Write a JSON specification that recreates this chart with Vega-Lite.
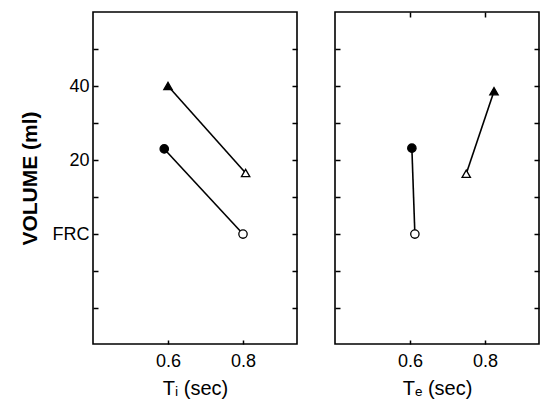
{
  "$schema": "https://vega.github.io/schema/vega-lite/v6.json",
  "padding": {"left": 18, "top": 10, "right": 2, "bottom": 0},
  "background": "white",
  "config": {
    "view": {"stroke": "black", "strokeWidth": 1.6},
    "font": "Liberation Sans",
    "axis": {
      "domain": false, "grid": false, "tickColor": "black", "tickWidth": 1.5,
      "labelColor": "black", "titleColor": "black", "labelFont": "Liberation Sans",
      "titleFont": "Liberation Sans", "labelFontSize": 18, "titleFontSize": 20, "titleFontWeight": "normal"
    }
  },
  "datasets": {
    "ti": [
      {"t": 0.6, "volume": 40, "breath": "A", "condition": "baseline"},
      {"t": 0.807, "volume": 16.5, "breath": "A", "condition": "altered"},
      {"t": 0.59, "volume": 23, "breath": "B", "condition": "baseline"},
      {"t": 0.8, "volume": 0, "breath": "B", "condition": "altered"}
    ],
    "te": [
      {"t": 0.824, "volume": 38.6, "breath": "A", "condition": "baseline"},
      {"t": 0.75, "volume": 16.3, "breath": "A", "condition": "altered"},
      {"t": 0.605, "volume": 23.2, "breath": "B", "condition": "baseline"},
      {"t": 0.613, "volume": 0, "breath": "B", "condition": "altered"}
    ]
  },
  "spacing": 34,
  "hconcat": [
    {
      "width": 204, "height": 332,
      "data": {"name": "ti"},
      "layer": [
        {
          "mark": {"type": "line", "color": "black", "strokeWidth": 1.6},
          "encoding": {
            "x": {"field": "t", "type": "quantitative", "scale": {"domain": [0.4, 0.944], "nice": false, "zero": false},
                  "axis": {"values": [0.6, 0.8], "format": ".1f", "tickSize": -4, "labelPadding": 12, "title": "Tᵢ (sec)", "titlePadding": 8}},
            "y": {"field": "volume", "type": "quantitative", "scale": {"domain": [-29.7, 60], "nice": false, "zero": false},
                  "axis": {"values": [-20, -10, 0, 10, 20, 30, 40, 50], "tickSize": -5, "labelPadding": 9,
                           "labelExpr": "datum.value == 0 ? 'FRC' : (datum.value == 20 || datum.value == 40 ? datum.label : '')",
                           "title": "VOLUME (ml)", "titleFontSize": 21, "titleFontWeight": "bold", "titlePadding": 12}},
            "detail": {"field": "breath"}
          }
        },
        {
          "mark": {"type": "point", "filled": true, "stroke": "black", "strokeWidth": 1.3, "size": 70, "opacity": 1},
          "encoding": {
            "x": {"field": "t", "type": "quantitative", "scale": {"domain": [0.4, 0.944], "nice": false, "zero": false}, "axis": null},
            "y": {"field": "volume", "type": "quantitative", "scale": {"domain": [-29.7, 60], "nice": false, "zero": false}, "axis": null},
            "shape": {"field": "breath", "type": "nominal", "scale": {"domain": ["A", "B"], "range": ["triangle-up", "circle"]}, "legend": null},
            "fill": {"field": "condition", "type": "nominal", "scale": {"domain": ["baseline", "altered"], "range": ["black", "white"]}, "legend": null}
          }
        },
        {
          "mark": {"type": "point", "opacity": 0},
          "encoding": {
            "y": {"field": "volume", "type": "quantitative", "scale": {"domain": [-29.7, 60], "nice": false, "zero": false},
                  "axis": {"orient": "right", "values": [-20, -10, 0, 10, 20, 30, 40, 50], "tickSize": -5, "labels": false, "title": null}}
          }
        }
      ],
      "resolve": {"axis": {"y": "independent", "x": "independent"}}
    },
    {
      "width": 204, "height": 332,
      "data": {"name": "te"},
      "layer": [
        {
          "mark": {"type": "line", "color": "black", "strokeWidth": 1.6},
          "encoding": {
            "x": {"field": "t", "type": "quantitative", "scale": {"domain": [0.4, 0.944], "nice": false, "zero": false},
                  "axis": {"values": [0.6, 0.8], "format": ".1f", "tickSize": -4, "labelPadding": 12, "title": "Tₑ (sec)", "titlePadding": 8}},
            "y": {"field": "volume", "type": "quantitative", "scale": {"domain": [-29.7, 60], "nice": false, "zero": false},
                  "axis": {"values": [-20, -10, 0, 10, 20, 30, 40, 50], "tickSize": -5, "labels": false, "title": null}},
            "detail": {"field": "breath"}
          }
        },
        {
          "mark": {"type": "point", "filled": true, "stroke": "black", "strokeWidth": 1.3, "size": 70, "opacity": 1},
          "encoding": {
            "x": {"field": "t", "type": "quantitative", "scale": {"domain": [0.4, 0.944], "nice": false, "zero": false}, "axis": null},
            "y": {"field": "volume", "type": "quantitative", "scale": {"domain": [-29.7, 60], "nice": false, "zero": false}, "axis": null},
            "shape": {"field": "breath", "type": "nominal", "scale": {"domain": ["A", "B"], "range": ["triangle-up", "circle"]}, "legend": null},
            "fill": {"field": "condition", "type": "nominal", "scale": {"domain": ["baseline", "altered"], "range": ["black", "white"]}, "legend": null}
          }
        },
        {
          "mark": {"type": "point", "opacity": 0},
          "encoding": {
            "x": {"field": "t", "type": "quantitative", "scale": {"domain": [0.4, 0.944], "nice": false, "zero": false},
                  "axis": {"orient": "top", "values": [0.6, 0.8], "tickSize": -5, "labels": false, "title": null}},
            "y": {"field": "volume", "type": "quantitative", "scale": {"domain": [-29.7, 60], "nice": false, "zero": false},
                  "axis": {"orient": "right", "values": [-20, -10, 0, 10, 20, 30, 40, 50], "tickSize": -5, "labels": false, "title": null}}
          }
        }
      ],
      "resolve": {"axis": {"y": "independent", "x": "independent"}}
    }
  ]
}
